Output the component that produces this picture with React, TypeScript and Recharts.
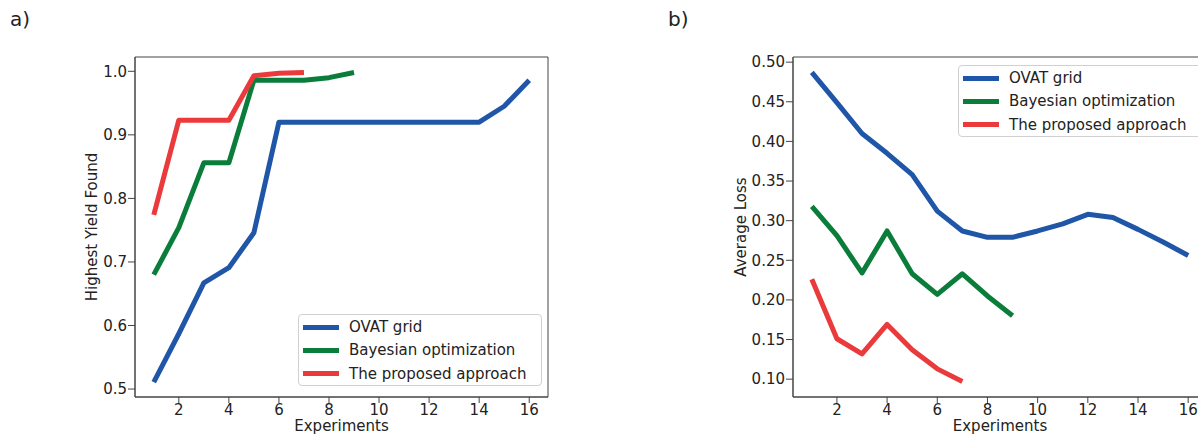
import React from "react";
import {
  LineChart,
  Line,
  XAxis,
  YAxis,
  ReferenceArea,
} from "recharts";

// experiment index (x axis)
const experiments = [1, 2, 3, 4, 5, 6, 7, 8, 9, 10, 11, 12, 13, 14, 15, 16];
const xTicks = [2, 4, 6, 8, 10, 12, 14, 16];
const xDomain: [number, number] = [0.25, 16.75];

// a) highest yield found
const yieldOvat = [0.511, 0.587, 0.667, 0.691, 0.746, 0.92, 0.92, 0.92, 0.92, 0.92, 0.92, 0.92, 0.92, 0.92, 0.945, 0.986];
const yieldBayes = [0.68, 0.754, 0.856, 0.856, 0.986, 0.986, 0.986, 0.99, 0.998];
const yieldProposed = [0.774, 0.923, 0.923, 0.923, 0.993, 0.997, 0.998];
const yieldTicks = [0.5, 0.6, 0.7, 0.8, 0.9, 1.0];

// b) average loss
const lossOvat = [0.487, 0.449, 0.41, 0.385, 0.358, 0.312, 0.287, 0.279, 0.279, 0.287, 0.296, 0.308, 0.304, 0.289, 0.273, 0.256];
const lossBayes = [0.318, 0.281, 0.234, 0.287, 0.233, 0.207, 0.233, 0.205, 0.18];
const lossProposed = [0.226, 0.151, 0.132, 0.169, 0.137, 0.113, 0.097];
const lossTicks = [0.1, 0.15, 0.2, 0.25, 0.3, 0.35, 0.4, 0.45, 0.5];

const seriesNames = ["OVAT grid", "Bayesian optimization", "The proposed approach"];
const seriesColors = ["#1f56a8", "#0b7d3b", "#eb3a3c"];

const FONT = "'DejaVu Sans', sans-serif";
const AXIS = "#444";
const TEXT = "#222";

const buildRows = (a: number[], b: number[], c: number[]) =>
  experiments.map((x, i) => ({
    x,
    s0: a[i] ?? null,
    s1: b[i] ?? null,
    s2: c[i] ?? null,
  }));

const yieldRows = buildRows(yieldOvat, yieldBayes, yieldProposed);
const lossRows = buildRows(lossOvat, lossBayes, lossProposed);

const tickStyle = { fontSize: 15, fill: TEXT, fontFamily: FONT };

const yLabel = (text: string, x: number) => (props: any) => {
  const vb = props.viewBox;
  const cy = vb.y + vb.height / 2;
  return (
    <text
      x={x}
      y={cy}
      transform={`rotate(-90 ${x} ${cy})`}
      textAnchor="middle"
      dominantBaseline="central"
      fontSize={15}
      fill={TEXT}
      fontFamily={FONT}
    >
      {text}
    </text>
  );
};

const LegendBox = ({ left, top, width }: { left: number; top: number; width: number }) => (
  <div
    style={{
      position: "absolute",
      left,
      top,
      width,
      height: 72,
      border: "1px solid #d0d0d0",
      borderRadius: 4,
      background: "rgba(255,255,255,0.85)",
      boxSizing: "border-box",
      fontFamily: FONT,
      fontSize: 15,
      color: TEXT,
    }}
  >
    {seriesNames.map((name, i) => (
      <div
        key={name}
        style={{
          position: "absolute",
          left: 4,
          top: 2 + i * 23.3,
          height: 20,
          display: "flex",
          alignItems: "center",
          whiteSpace: "nowrap",
        }}
      >
        <span
          style={{
            display: "inline-block",
            width: 36,
            height: 5,
            background: seriesColors[i],
            marginRight: 10,
          }}
        />
        {name}
      </div>
    ))}
  </div>
);

type PanelProps = {
  rows: any[];
  left: number;
  yAxisWidth: number;
  rightMargin: number;
  width: number;
  domain: [number, number];
  ticks: number[];
  digits: number;
  label: string;
  labelX: number;
};

const Panel = (p: PanelProps) => (
  <div style={{ position: "absolute", left: p.left, top: 0 }}>
    <LineChart
      width={p.width}
      height={435}
      data={p.rows}
      margin={{ top: 57, right: p.rightMargin, left: 0, bottom: 0 }}
    >
      <XAxis
        dataKey="x"
        type="number"
        domain={xDomain}
        ticks={xTicks}
        allowDataOverflow
        height={38}
        tick={tickStyle}
        tickSize={6}
        tickMargin={1}
        stroke={AXIS}
        tickLine={{ stroke: AXIS }}
        label={{
          value: "Experiments",
          position: "insideBottom",
          offset: 4,
          fontSize: 15,
          fill: TEXT,
          fontFamily: FONT,
        }}
      />
      <YAxis
        type="number"
        domain={p.domain}
        ticks={p.ticks}
        allowDataOverflow
        width={p.yAxisWidth}
        tick={tickStyle}
        tickSize={7}
        tickMargin={1}
        stroke={AXIS}
        tickLine={{ stroke: AXIS }}
        tickFormatter={(v: number) => v.toFixed(p.digits)}
        label={{ content: yLabel(p.label, p.labelX) }}
      />
      {/* full frame round the plot, like matplotlib's spines */}
      <ReferenceArea
        x1={xDomain[0]}
        x2={xDomain[1]}
        y1={p.domain[0]}
        y2={p.domain[1]}
        fill="none"
        fillOpacity={0}
        stroke={AXIS}
        strokeWidth={1}
        ifOverflow="visible"
      />
      {seriesNames.map((name, i) => (
        <Line
          key={name}
          name={name}
          dataKey={`s${i}`}
          stroke={seriesColors[i]}
          strokeWidth={5}
          dot={false}
          activeDot={false}
          isAnimationActive={false}
          strokeLinejoin="round"
        />
      ))}
    </LineChart>
  </div>
);

const panelTitle = (text: string, left: number) => (
  <div
    style={{
      position: "absolute",
      left,
      top: 7,
      fontFamily: FONT,
      fontSize: 20,
      color: TEXT,
      lineHeight: "24px",
    }}
  >
    {text}
  </div>
);

export default function App() {
  return (
    <div
      style={{
        position: "absolute",
        left: 0,
        top: 0,
        width: 1198,
        height: 435,
        overflow: "hidden",
        background: "#fff",
      }}
    >
      {panelTitle("a)", 10)}
      {panelTitle("b)", 668)}
      <Panel
        rows={yieldRows}
        left={0}
        width={560}
        yAxisWidth={135}
        rightMargin={12}
        domain={[0.4875, 1.0225]}
        ticks={yieldTicks}
        digits={1}
        label="Highest Yield Found"
        labelX={92}
      />
      <Panel
        rows={lossRows}
        left={640}
        width={580}
        yAxisWidth={153}
        rightMargin={13}
        domain={[0.0775, 0.5065]}
        ticks={lossTicks}
        digits={2}
        label="Average Loss"
        labelX={101}
      />
      <LegendBox left={298} top={314} width={244} />
      <LegendBox left={958} top={65} width={260} />
    </div>
  );
}
